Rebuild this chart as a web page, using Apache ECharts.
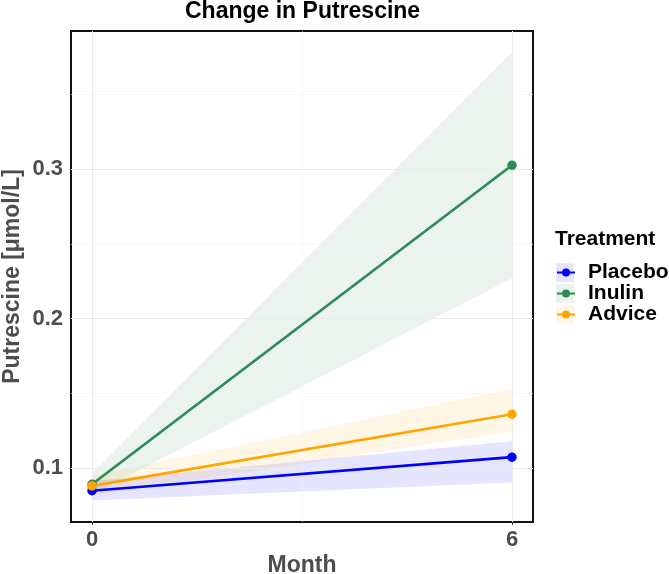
<!DOCTYPE html>
<html><head><meta charset="utf-8">
<script src="https://cdn.jsdelivr.net/npm/echarts@6/dist/echarts.min.js"></script>
<style>html,body{margin:0;padding:0;background:#fff}#c{width:669px;height:574px}</style>
</head><body><div id="c"></div>
<script>
// ---- data ----
const months = [0, 6];
const groups = ['Placebo', 'Inulin', 'Advice'];
const placeboMean  = [0.0850, 0.1074];
const placeboLower = [0.0785, 0.0905];
const placeboUpper = [0.0915, 0.1180];
const inulinMean   = [0.0893, 0.3025];
const inulinLower  = [0.0825, 0.2270];
const inulinUpper  = [0.0965, 0.3780];
const adviceMean   = [0.0882, 0.1361];
const adviceLower  = [0.0815, 0.1245];
const adviceUpper  = [0.0950, 0.1530];
const yTicks = [0.1, 0.2, 0.3];
const yMinorTicks = [0.15, 0.25, 0.35];
const xTicks = [0, 6];
const xMinorTicks = [3];

// ---- styling ----
const lineColors = ['#0000FF', '#2E8B57', '#FFA500'];
const bandColors = ['rgba(0,0,255,0.1)', 'rgba(46,139,87,0.1)', 'rgba(255,165,0,0.1)'];
const means = [placeboMean, inulinMean, adviceMean];
const lowers = [placeboLower, inulinLower, adviceLower];
const uppers = [placeboUpper, inulinUpper, adviceUpper];
const FONT = 'Liberation Sans, Arial, sans-serif';

const gridLines = [].concat(
  yTicks.map(v => ({ yAxis: v, lineStyle: { color: '#EBEBEB', width: 1.1, type: 'solid' } })),
  yMinorTicks.map(v => ({ yAxis: v, lineStyle: { color: '#F2F2F2', width: 0.6, type: 'solid' } })),
  xTicks.map(v => ({ xAxis: v, lineStyle: { color: '#EBEBEB', width: 1.1, type: 'solid' } })),
  xMinorTicks.map(v => ({ xAxis: v, lineStyle: { color: '#F2F2F2', width: 0.6, type: 'solid' } }))
);

const series = [{
  name: 'grid', type: 'line', symbol: 'none', silent: true, z: 0,
  lineStyle: { opacity: 0 },
  data: months.map((m, k) => [m, placeboMean[k]]),
  markLine: { silent: true, symbol: ['none', 'none'], label: { show: false }, animation: false, data: gridLines }
}];

groups.forEach((g, i) => {
  series.push({
    name: g + '_band', type: 'custom', silent: true, z: 1,
    itemStyle: { color: bandColors[i] },
    data: months.map((m, k) => [m, lowers[i][k], uppers[i][k]]),
    renderItem: function (params, api) {
      if (params.dataIndexInside !== 0) return null;
      const n = params.dataInsideLength;
      const top = [], bot = [];
      for (let j = 0; j < n; j++) {
        top.push(api.coord([api.value(0, j), api.value(2, j)]));
        bot.push(api.coord([api.value(0, j), api.value(1, j)]));
      }
      return { type: 'polygon', shape: { points: top.concat(bot.reverse()) },
               style: { fill: bandColors[i], stroke: null } };
    }
  });
});
groups.forEach((g, i) => {
  series.push({
    name: g, type: 'line', symbol: 'circle', symbolSize: 9.5,
    lineStyle: { color: lineColors[i], width: 2.7 },
    itemStyle: { color: lineColors[i] },
    data: months.map((m, k) => [m, means[i][k]]),
    z: 5
  });
});

const chart = echarts.init(document.getElementById('c'), null, { renderer: 'canvas' });
chart.setOption({
  animation: false,
  backgroundColor: '#fff',
  title: [
    { text: 'Change in Putrescine', left: 185, top: 0, padding: 0,
      textStyle: { fontFamily: FONT, fontWeight: 'bold', fontSize: 23, color: '#000' } },
    { text: 'Treatment', left: 555, top: 229, padding: 0,
      textStyle: { fontFamily: FONT, fontWeight: 'bold', fontSize: 21, color: '#000' } }
  ],
  grid: { left: 71, right: 136, top: 31, bottom: 52, show: true, borderColor: '#111', borderWidth: 2,
          backgroundColor: 'transparent', containLabel: false, outerBoundsMode: 'none' },
  xAxis: {
    type: 'value', min: -0.3, max: 6.3,
    name: 'Month', nameLocation: 'middle', nameGap: 32, nameMoveOverlap: false,
    nameTextStyle: { fontFamily: FONT, fontWeight: 'bold', fontSize: 23, color: '#4D4D4D' },
    axisLine: { show: false },
    axisTick: { show: true, length: 3, lineStyle: { color: '#333' }, customValues: xTicks },
    axisLabel: { customValues: xTicks, margin: 7, formatter: v => String(v),
      fontFamily: FONT, fontWeight: 'bold', fontSize: 22, color: '#4D4D4D' },
    splitLine: { show: false }
  },
  yAxis: {
    type: 'value', min: 0.0641, max: 0.3922,
    name: 'Putrescine [\u03bcmol/L]', nameLocation: 'middle', nameGap: 47, nameMoveOverlap: false,
    nameTextStyle: { fontFamily: FONT, fontWeight: 'bold', fontSize: 23, color: '#4D4D4D' },
    axisLine: { show: false },
    axisTick: { show: true, length: 3, lineStyle: { color: '#333' }, customValues: yTicks },
    axisLabel: { customValues: yTicks, margin: 8, formatter: v => v.toFixed(1),
      fontFamily: FONT, fontWeight: 'bold', fontSize: 22, color: '#4D4D4D' },
    splitLine: { show: false }
  },
  legend: [
    { orient: 'vertical', left: 556, top: 262, padding: 0, itemGap: 0,
      itemWidth: 18, itemHeight: 18.5, selectedMode: false,
      data: groups.map((g, i) => ({ name: g + '_band', icon: 'rect', itemStyle: { color: bandColors[i], borderWidth: 0 } })),
      formatter: () => ' ',
      textStyle: { fontFamily: FONT, fontSize: 21, lineHeight: 18.5, color: '#000' } },
    { orient: 'vertical', left: 556, top: 262, padding: 0, itemGap: 0,
      itemWidth: 18, itemHeight: 10, selectedMode: false,
      data: groups,
      textStyle: { fontFamily: FONT, fontWeight: 'bold', fontSize: 21, lineHeight: 18.5, color: '#000', padding: [0, 0, 0, 8] } }
  ],
  series: series
});
</script></body></html>
